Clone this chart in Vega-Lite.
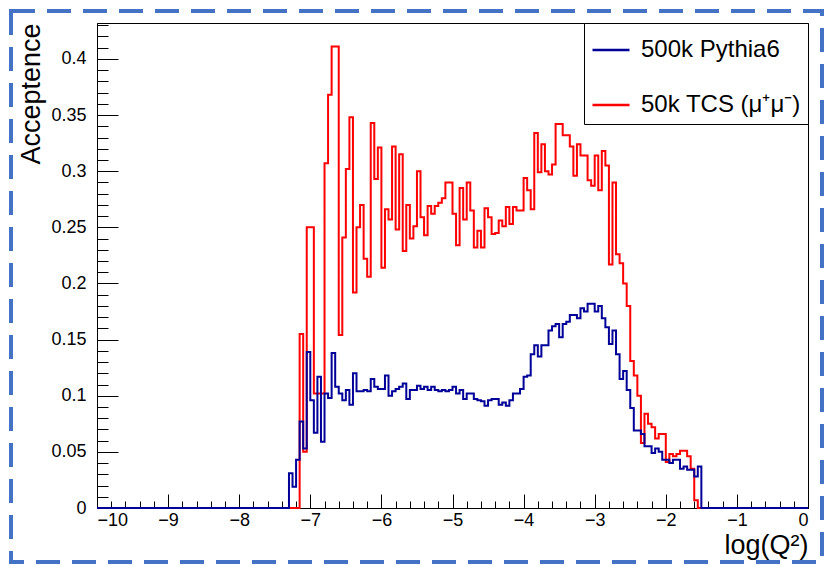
{
  "$schema": "https://vega.github.io/schema/vega-lite/v6.json",
  "width": 711,
  "height": 485,
  "autosize": "none",
  "padding": {"left": 97, "top": 23, "right": 19, "bottom": 62},
  "background": "white",
  "config": {
    "view": {"stroke": "black", "strokeWidth": 1},
    "font": "Liberation Sans",
    "axis": {
      "grid": false,
      "domainColor": "black",
      "tickColor": "black",
      "labelColor": "black",
      "titleColor": "black",
      "labelFont": "Liberation Sans",
      "titleFont": "Liberation Sans",
      "titleFontWeight": "normal",
      "labelFontSize": 18,
      "titleFontSize": 27
    }
  },
  "datasets": {
    "h": [
      {"s": "50k TCS (μ⁺μ⁻)", "x": -10, "y": 0},
      {"s": "50k TCS (μ⁺μ⁻)", "x": -7.15, "y": 0.155},
      {"s": "50k TCS (μ⁺μ⁻)", "x": -7.10, "y": 0.05},
      {"s": "50k TCS (μ⁺μ⁻)", "x": -7.05, "y": 0.25},
      {"s": "50k TCS (μ⁺μ⁻)", "x": -7.00, "y": 0.25},
      {"s": "50k TCS (μ⁺μ⁻)", "x": -6.95, "y": 0.102},
      {"s": "50k TCS (μ⁺μ⁻)", "x": -6.90, "y": 0.102},
      {"s": "50k TCS (μ⁺μ⁻)", "x": -6.85, "y": 0.102},
      {"s": "50k TCS (μ⁺μ⁻)", "x": -6.80, "y": 0.307},
      {"s": "50k TCS (μ⁺μ⁻)", "x": -6.75, "y": 0.368},
      {"s": "50k TCS (μ⁺μ⁻)", "x": -6.70, "y": 0.411},
      {"s": "50k TCS (μ⁺μ⁻)", "x": -6.65, "y": 0.411},
      {"s": "50k TCS (μ⁺μ⁻)", "x": -6.60, "y": 0.154},
      {"s": "50k TCS (μ⁺μ⁻)", "x": -6.55, "y": 0.241},
      {"s": "50k TCS (μ⁺μ⁻)", "x": -6.50, "y": 0.302},
      {"s": "50k TCS (μ⁺μ⁻)", "x": -6.45, "y": 0.348},
      {"s": "50k TCS (μ⁺μ⁻)", "x": -6.40, "y": 0.192},
      {"s": "50k TCS (μ⁺μ⁻)", "x": -6.35, "y": 0.25},
      {"s": "50k TCS (μ⁺μ⁻)", "x": -6.30, "y": 0.27},
      {"s": "50k TCS (μ⁺μ⁻)", "x": -6.25, "y": 0.222},
      {"s": "50k TCS (μ⁺μ⁻)", "x": -6.20, "y": 0.206},
      {"s": "50k TCS (μ⁺μ⁻)", "x": -6.15, "y": 0.343},
      {"s": "50k TCS (μ⁺μ⁻)", "x": -6.10, "y": 0.293},
      {"s": "50k TCS (μ⁺μ⁻)", "x": -6.05, "y": 0.321},
      {"s": "50k TCS (μ⁺μ⁻)", "x": -6.00, "y": 0.214},
      {"s": "50k TCS (μ⁺μ⁻)", "x": -5.95, "y": 0.266},
      {"s": "50k TCS (μ⁺μ⁻)", "x": -5.90, "y": 0.257},
      {"s": "50k TCS (μ⁺μ⁻)", "x": -5.85, "y": 0.322},
      {"s": "50k TCS (μ⁺μ⁻)", "x": -5.80, "y": 0.248},
      {"s": "50k TCS (μ⁺μ⁻)", "x": -5.75, "y": 0.315},
      {"s": "50k TCS (μ⁺μ⁻)", "x": -5.70, "y": 0.229},
      {"s": "50k TCS (μ⁺μ⁻)", "x": -5.65, "y": 0.27},
      {"s": "50k TCS (μ⁺μ⁻)", "x": -5.60, "y": 0.24},
      {"s": "50k TCS (μ⁺μ⁻)", "x": -5.55, "y": 0.251},
      {"s": "50k TCS (μ⁺μ⁻)", "x": -5.50, "y": 0.300},
      {"s": "50k TCS (μ⁺μ⁻)", "x": -5.45, "y": 0.259},
      {"s": "50k TCS (μ⁺μ⁻)", "x": -5.40, "y": 0.243},
      {"s": "50k TCS (μ⁺μ⁻)", "x": -5.35, "y": 0.269},
      {"s": "50k TCS (μ⁺μ⁻)", "x": -5.30, "y": 0.262},
      {"s": "50k TCS (μ⁺μ⁻)", "x": -5.25, "y": 0.269},
      {"s": "50k TCS (μ⁺μ⁻)", "x": -5.20, "y": 0.272},
      {"s": "50k TCS (μ⁺μ⁻)", "x": -5.15, "y": 0.276},
      {"s": "50k TCS (μ⁺μ⁻)", "x": -5.10, "y": 0.290},
      {"s": "50k TCS (μ⁺μ⁻)", "x": -5.05, "y": 0.290},
      {"s": "50k TCS (μ⁺μ⁻)", "x": -5.00, "y": 0.262},
      {"s": "50k TCS (μ⁺μ⁻)", "x": -4.95, "y": 0.234},
      {"s": "50k TCS (μ⁺μ⁻)", "x": -4.90, "y": 0.285},
      {"s": "50k TCS (μ⁺μ⁻)", "x": -4.85, "y": 0.257},
      {"s": "50k TCS (μ⁺μ⁻)", "x": -4.80, "y": 0.290},
      {"s": "50k TCS (μ⁺μ⁻)", "x": -4.75, "y": 0.265},
      {"s": "50k TCS (μ⁺μ⁻)", "x": -4.70, "y": 0.232},
      {"s": "50k TCS (μ⁺μ⁻)", "x": -4.65, "y": 0.247},
      {"s": "50k TCS (μ⁺μ⁻)", "x": -4.60, "y": 0.232},
      {"s": "50k TCS (μ⁺μ⁻)", "x": -4.55, "y": 0.267},
      {"s": "50k TCS (μ⁺μ⁻)", "x": -4.50, "y": 0.259},
      {"s": "50k TCS (μ⁺μ⁻)", "x": -4.45, "y": 0.244},
      {"s": "50k TCS (μ⁺μ⁻)", "x": -4.40, "y": 0.245},
      {"s": "50k TCS (μ⁺μ⁻)", "x": -4.35, "y": 0.256},
      {"s": "50k TCS (μ⁺μ⁻)", "x": -4.30, "y": 0.251},
      {"s": "50k TCS (μ⁺μ⁻)", "x": -4.25, "y": 0.268},
      {"s": "50k TCS (μ⁺μ⁻)", "x": -4.20, "y": 0.253},
      {"s": "50k TCS (μ⁺μ⁻)", "x": -4.15, "y": 0.268},
      {"s": "50k TCS (μ⁺μ⁻)", "x": -4.10, "y": 0.265},
      {"s": "50k TCS (μ⁺μ⁻)", "x": -4.05, "y": 0.265},
      {"s": "50k TCS (μ⁺μ⁻)", "x": -4.00, "y": 0.294},
      {"s": "50k TCS (μ⁺μ⁻)", "x": -3.95, "y": 0.283},
      {"s": "50k TCS (μ⁺μ⁻)", "x": -3.90, "y": 0.266},
      {"s": "50k TCS (μ⁺μ⁻)", "x": -3.85, "y": 0.334},
      {"s": "50k TCS (μ⁺μ⁻)", "x": -3.80, "y": 0.299},
      {"s": "50k TCS (μ⁺μ⁻)", "x": -3.75, "y": 0.324},
      {"s": "50k TCS (μ⁺μ⁻)", "x": -3.70, "y": 0.300},
      {"s": "50k TCS (μ⁺μ⁻)", "x": -3.65, "y": 0.297},
      {"s": "50k TCS (μ⁺μ⁻)", "x": -3.60, "y": 0.306},
      {"s": "50k TCS (μ⁺μ⁻)", "x": -3.55, "y": 0.342},
      {"s": "50k TCS (μ⁺μ⁻)", "x": -3.50, "y": 0.342},
      {"s": "50k TCS (μ⁺μ⁻)", "x": -3.45, "y": 0.332},
      {"s": "50k TCS (μ⁺μ⁻)", "x": -3.40, "y": 0.332},
      {"s": "50k TCS (μ⁺μ⁻)", "x": -3.35, "y": 0.322},
      {"s": "50k TCS (μ⁺μ⁻)", "x": -3.30, "y": 0.296},
      {"s": "50k TCS (μ⁺μ⁻)", "x": -3.25, "y": 0.324},
      {"s": "50k TCS (μ⁺μ⁻)", "x": -3.20, "y": 0.314},
      {"s": "50k TCS (μ⁺μ⁻)", "x": -3.15, "y": 0.314},
      {"s": "50k TCS (μ⁺μ⁻)", "x": -3.10, "y": 0.292},
      {"s": "50k TCS (μ⁺μ⁻)", "x": -3.05, "y": 0.287},
      {"s": "50k TCS (μ⁺μ⁻)", "x": -3.00, "y": 0.314},
      {"s": "50k TCS (μ⁺μ⁻)", "x": -2.95, "y": 0.283},
      {"s": "50k TCS (μ⁺μ⁻)", "x": -2.90, "y": 0.318},
      {"s": "50k TCS (μ⁺μ⁻)", "x": -2.85, "y": 0.305},
      {"s": "50k TCS (μ⁺μ⁻)", "x": -2.80, "y": 0.217},
      {"s": "50k TCS (μ⁺μ⁻)", "x": -2.75, "y": 0.290},
      {"s": "50k TCS (μ⁺μ⁻)", "x": -2.70, "y": 0.226},
      {"s": "50k TCS (μ⁺μ⁻)", "x": -2.65, "y": 0.218},
      {"s": "50k TCS (μ⁺μ⁻)", "x": -2.60, "y": 0.200},
      {"s": "50k TCS (μ⁺μ⁻)", "x": -2.55, "y": 0.180},
      {"s": "50k TCS (μ⁺μ⁻)", "x": -2.50, "y": 0.131},
      {"s": "50k TCS (μ⁺μ⁻)", "x": -2.45, "y": 0.118},
      {"s": "50k TCS (μ⁺μ⁻)", "x": -2.40, "y": 0.100},
      {"s": "50k TCS (μ⁺μ⁻)", "x": -2.35, "y": 0.058},
      {"s": "50k TCS (μ⁺μ⁻)", "x": -2.30, "y": 0.084},
      {"s": "50k TCS (μ⁺μ⁻)", "x": -2.25, "y": 0.075},
      {"s": "50k TCS (μ⁺μ⁻)", "x": -2.20, "y": 0.072},
      {"s": "50k TCS (μ⁺μ⁻)", "x": -2.15, "y": 0.062},
      {"s": "50k TCS (μ⁺μ⁻)", "x": -2.10, "y": 0.066},
      {"s": "50k TCS (μ⁺μ⁻)", "x": -2.05, "y": 0.066},
      {"s": "50k TCS (μ⁺μ⁻)", "x": -2.00, "y": 0.041},
      {"s": "50k TCS (μ⁺μ⁻)", "x": -1.95, "y": 0.048},
      {"s": "50k TCS (μ⁺μ⁻)", "x": -1.90, "y": 0.046},
      {"s": "50k TCS (μ⁺μ⁻)", "x": -1.85, "y": 0.048},
      {"s": "50k TCS (μ⁺μ⁻)", "x": -1.80, "y": 0.051},
      {"s": "50k TCS (μ⁺μ⁻)", "x": -1.75, "y": 0.051},
      {"s": "50k TCS (μ⁺μ⁻)", "x": -1.70, "y": 0.046},
      {"s": "50k TCS (μ⁺μ⁻)", "x": -1.65, "y": 0.035},
      {"s": "50k TCS (μ⁺μ⁻)", "x": -1.60, "y": 0.007},
      {"s": "50k TCS (μ⁺μ⁻)", "x": -1.55, "y": 0},
      {"s": "50k TCS (μ⁺μ⁻)", "x": 0, "y": 0},
      {"s": "500k Pythia6", "x": -10, "y": 0},
      {"s": "500k Pythia6", "x": -7.30, "y": 0.031},
      {"s": "500k Pythia6", "x": -7.25, "y": 0.019},
      {"s": "500k Pythia6", "x": -7.20, "y": 0.043},
      {"s": "500k Pythia6", "x": -7.15, "y": 0.077},
      {"s": "500k Pythia6", "x": -7.10, "y": 0.053},
      {"s": "500k Pythia6", "x": -7.05, "y": 0.139},
      {"s": "500k Pythia6", "x": -7.00, "y": 0.096},
      {"s": "500k Pythia6", "x": -6.95, "y": 0.067},
      {"s": "500k Pythia6", "x": -6.90, "y": 0.117},
      {"s": "500k Pythia6", "x": -6.85, "y": 0.059},
      {"s": "500k Pythia6", "x": -6.80, "y": 0.102},
      {"s": "500k Pythia6", "x": -6.75, "y": 0.098},
      {"s": "500k Pythia6", "x": -6.70, "y": 0.138},
      {"s": "500k Pythia6", "x": -6.65, "y": 0.108},
      {"s": "500k Pythia6", "x": -6.60, "y": 0.102},
      {"s": "500k Pythia6", "x": -6.55, "y": 0.096},
      {"s": "500k Pythia6", "x": -6.50, "y": 0.105},
      {"s": "500k Pythia6", "x": -6.45, "y": 0.092},
      {"s": "500k Pythia6", "x": -6.40, "y": 0.120},
      {"s": "500k Pythia6", "x": -6.35, "y": 0.104},
      {"s": "500k Pythia6", "x": -6.30, "y": 0.104},
      {"s": "500k Pythia6", "x": -6.25, "y": 0.105},
      {"s": "500k Pythia6", "x": -6.20, "y": 0.104},
      {"s": "500k Pythia6", "x": -6.15, "y": 0.115},
      {"s": "500k Pythia6", "x": -6.10, "y": 0.108},
      {"s": "500k Pythia6", "x": -6.05, "y": 0.106},
      {"s": "500k Pythia6", "x": -6.00, "y": 0.106},
      {"s": "500k Pythia6", "x": -5.95, "y": 0.118},
      {"s": "500k Pythia6", "x": -5.90, "y": 0.100},
      {"s": "500k Pythia6", "x": -5.85, "y": 0.104},
      {"s": "500k Pythia6", "x": -5.80, "y": 0.106},
      {"s": "500k Pythia6", "x": -5.75, "y": 0.108},
      {"s": "500k Pythia6", "x": -5.70, "y": 0.111},
      {"s": "500k Pythia6", "x": -5.65, "y": 0.097},
      {"s": "500k Pythia6", "x": -5.60, "y": 0.105},
      {"s": "500k Pythia6", "x": -5.55, "y": 0.105},
      {"s": "500k Pythia6", "x": -5.50, "y": 0.109},
      {"s": "500k Pythia6", "x": -5.45, "y": 0.106},
      {"s": "500k Pythia6", "x": -5.40, "y": 0.108},
      {"s": "500k Pythia6", "x": -5.35, "y": 0.105},
      {"s": "500k Pythia6", "x": -5.30, "y": 0.108},
      {"s": "500k Pythia6", "x": -5.25, "y": 0.105},
      {"s": "500k Pythia6", "x": -5.20, "y": 0.104},
      {"s": "500k Pythia6", "x": -5.15, "y": 0.105},
      {"s": "500k Pythia6", "x": -5.10, "y": 0.104},
      {"s": "500k Pythia6", "x": -5.05, "y": 0.105},
      {"s": "500k Pythia6", "x": -5.00, "y": 0.108},
      {"s": "500k Pythia6", "x": -4.95, "y": 0.102},
      {"s": "500k Pythia6", "x": -4.90, "y": 0.105},
      {"s": "500k Pythia6", "x": -4.85, "y": 0.097},
      {"s": "500k Pythia6", "x": -4.80, "y": 0.102},
      {"s": "500k Pythia6", "x": -4.75, "y": 0.102},
      {"s": "500k Pythia6", "x": -4.70, "y": 0.097},
      {"s": "500k Pythia6", "x": -4.65, "y": 0.096},
      {"s": "500k Pythia6", "x": -4.60, "y": 0.095},
      {"s": "500k Pythia6", "x": -4.55, "y": 0.091},
      {"s": "500k Pythia6", "x": -4.50, "y": 0.096},
      {"s": "500k Pythia6", "x": -4.45, "y": 0.097},
      {"s": "500k Pythia6", "x": -4.40, "y": 0.097},
      {"s": "500k Pythia6", "x": -4.35, "y": 0.092},
      {"s": "500k Pythia6", "x": -4.30, "y": 0.094},
      {"s": "500k Pythia6", "x": -4.25, "y": 0.091},
      {"s": "500k Pythia6", "x": -4.20, "y": 0.096},
      {"s": "500k Pythia6", "x": -4.15, "y": 0.102},
      {"s": "500k Pythia6", "x": -4.10, "y": 0.102},
      {"s": "500k Pythia6", "x": -4.05, "y": 0.106},
      {"s": "500k Pythia6", "x": -4.00, "y": 0.117},
      {"s": "500k Pythia6", "x": -3.95, "y": 0.118},
      {"s": "500k Pythia6", "x": -3.90, "y": 0.137},
      {"s": "500k Pythia6", "x": -3.85, "y": 0.145},
      {"s": "500k Pythia6", "x": -3.80, "y": 0.135},
      {"s": "500k Pythia6", "x": -3.75, "y": 0.145},
      {"s": "500k Pythia6", "x": -3.70, "y": 0.145},
      {"s": "500k Pythia6", "x": -3.65, "y": 0.158},
      {"s": "500k Pythia6", "x": -3.60, "y": 0.162},
      {"s": "500k Pythia6", "x": -3.55, "y": 0.164},
      {"s": "500k Pythia6", "x": -3.50, "y": 0.152},
      {"s": "500k Pythia6", "x": -3.45, "y": 0.164},
      {"s": "500k Pythia6", "x": -3.40, "y": 0.166},
      {"s": "500k Pythia6", "x": -3.35, "y": 0.172},
      {"s": "500k Pythia6", "x": -3.30, "y": 0.172},
      {"s": "500k Pythia6", "x": -3.25, "y": 0.169},
      {"s": "500k Pythia6", "x": -3.20, "y": 0.178},
      {"s": "500k Pythia6", "x": -3.15, "y": 0.175},
      {"s": "500k Pythia6", "x": -3.10, "y": 0.182},
      {"s": "500k Pythia6", "x": -3.05, "y": 0.182},
      {"s": "500k Pythia6", "x": -3.00, "y": 0.175},
      {"s": "500k Pythia6", "x": -2.95, "y": 0.180},
      {"s": "500k Pythia6", "x": -2.90, "y": 0.169},
      {"s": "500k Pythia6", "x": -2.85, "y": 0.161},
      {"s": "500k Pythia6", "x": -2.80, "y": 0.146},
      {"s": "500k Pythia6", "x": -2.75, "y": 0.158},
      {"s": "500k Pythia6", "x": -2.70, "y": 0.137},
      {"s": "500k Pythia6", "x": -2.65, "y": 0.115},
      {"s": "500k Pythia6", "x": -2.60, "y": 0.122},
      {"s": "500k Pythia6", "x": -2.55, "y": 0.105},
      {"s": "500k Pythia6", "x": -2.50, "y": 0.089},
      {"s": "500k Pythia6", "x": -2.45, "y": 0.069},
      {"s": "500k Pythia6", "x": -2.40, "y": 0.069},
      {"s": "500k Pythia6", "x": -2.35, "y": 0.066},
      {"s": "500k Pythia6", "x": -2.30, "y": 0.055},
      {"s": "500k Pythia6", "x": -2.25, "y": 0.055},
      {"s": "500k Pythia6", "x": -2.20, "y": 0.049},
      {"s": "500k Pythia6", "x": -2.15, "y": 0.053},
      {"s": "500k Pythia6", "x": -2.10, "y": 0.050},
      {"s": "500k Pythia6", "x": -2.05, "y": 0.043},
      {"s": "500k Pythia6", "x": -2.00, "y": 0.043},
      {"s": "500k Pythia6", "x": -1.95, "y": 0.040},
      {"s": "500k Pythia6", "x": -1.90, "y": 0.043},
      {"s": "500k Pythia6", "x": -1.85, "y": 0.043},
      {"s": "500k Pythia6", "x": -1.80, "y": 0.035},
      {"s": "500k Pythia6", "x": -1.75, "y": 0.037},
      {"s": "500k Pythia6", "x": -1.70, "y": 0.034},
      {"s": "500k Pythia6", "x": -1.65, "y": 0.034},
      {"s": "500k Pythia6", "x": -1.60, "y": 0.028},
      {"s": "500k Pythia6", "x": -1.55, "y": 0.037},
      {"s": "500k Pythia6", "x": -1.50, "y": 0},
      {"s": "500k Pythia6", "x": 0, "y": 0}
    ]
  },
  "resolve": {"axis": {"x": "independent", "y": "independent"}},
  "layer": [
    {
      "data": {"name": "h"},
      "mark": {"type": "line", "strokeOpacity": 0, "interpolate": "step-after"},
      "encoding": {
        "x": {"field": "x", "type": "quantitative", "scale": {"domain": [-10, 0], "nice": false, "zero": false},
          "axis": {"orient": "bottom", "labels": false, "domain": false, "title": null, "tickSize": -7,
            "values": [-10,-9.8,-9.6,-9.4,-9.2,-9,-8.8,-8.6,-8.4,-8.2,-8,-7.8,-7.6,-7.4,-7.2,-7,-6.8,-6.6,-6.4,-6.2,-6,-5.8,-5.6,-5.4,-5.2,-5,-4.8,-4.6,-4.4,-4.2,-4,-3.8,-3.6,-3.4,-3.2,-3,-2.8,-2.6,-2.4,-2.2,-2,-1.8,-1.6,-1.4,-1.2,-1,-0.8,-0.6,-0.4,-0.2,0]}},
        "y": {"field": "y", "type": "quantitative", "scale": {"domain": [0, 0.432], "nice": false, "zero": false},
          "axis": {"orient": "left", "labels": false, "domain": false, "title": null, "tickSize": -11,
            "values": [0,0.01,0.02,0.03,0.04,0.05,0.06,0.07,0.08,0.09,0.1,0.11,0.12,0.13,0.14,0.15,0.16,0.17,0.18,0.19,0.2,0.21,0.22,0.23,0.24,0.25,0.26,0.27,0.28,0.29,0.3,0.31,0.32,0.33,0.34,0.35,0.36,0.37,0.38,0.39,0.4,0.41,0.42,0.43]}}
      }
    },
    {
      "data": {"name": "h"},
      "transform": [{"filter": "datum.s === '50k TCS (μ⁺μ⁻)'"}],
      "mark": {"type": "line", "interpolate": "step-after", "strokeWidth": 2},
      "encoding": {
        "x": {"field": "x", "type": "quantitative", "scale": {"domain": [-10, 0], "nice": false, "zero": false},
          "axis": {"orient": "bottom", "values": [-10,-9,-8,-7,-6,-5,-4,-3,-2,-1,0], "labels": false, "domain": false, "title": null, "tickSize": -14}},
        "y": {"field": "y", "type": "quantitative", "scale": {"domain": [0, 0.432], "nice": false, "zero": false},
          "axis": {"orient": "left", "values": [0,0.05,0.1,0.15,0.2,0.25,0.3,0.35,0.4], "labels": false, "domain": false, "title": null, "tickSize": -21}},
        "color": {"field": "s", "type": "nominal",
          "scale": {"domain": ["500k Pythia6", "50k TCS (μ⁺μ⁻)"], "range": ["#000099", "#ff0000"]},
          "legend": {"title": null, "orient": "top-right", "offset": 0, "symbolType": "stroke", "symbolSize": 1369,
            "symbolStrokeWidth": 2.5, "labelFontSize": 24, "labelFont": "Liberation Sans", "labelColor": "black",
            "labelOffset": 10, "rowPadding": 23, "padding": 7, "fillColor": "white", "strokeColor": "black", "labelLimit": 400}}
      }
    },
    {
      "data": {"name": "h"},
      "transform": [{"filter": "datum.s === '500k Pythia6'"}],
      "mark": {"type": "line", "interpolate": "step-after", "strokeWidth": 2},
      "encoding": {
        "x": {"field": "x", "type": "quantitative", "scale": {"domain": [-10, 0], "nice": false, "zero": false},
          "axis": {"orient": "bottom", "values": [-10,-9,-8,-7,-6,-5,-4,-3,-2,-1,0], "format": "d", "ticks": false,
            "labelPadding": 3, "title": "log(Q²)", "titleAnchor": "end", "titlePadding": 3}},
        "y": {"field": "y", "type": "quantitative", "scale": {"domain": [0, 0.432], "nice": false, "zero": false},
          "axis": {"orient": "left", "values": [0,0.05,0.1,0.15,0.2,0.25,0.3,0.35,0.4], "format": ".2~f", "ticks": false,
            "labelPadding": 11, "title": "Acceptence", "titleAnchor": "end", "titlePadding": 5}},
        "color": {"field": "s", "type": "nominal"}
      }
    },
    {
      "data": {"values": [{}]},
      "mark": {"type": "rect", "fill": null, "fillOpacity": 0, "stroke": "#4472c4", "strokeWidth": 4, "strokeDash": [24, 12]},
      "encoding": {
        "x": {"value": -86},
        "x2": {"value": 725},
        "y": {"value": -12},
        "y2": {"value": 539}
      }
    }
  ]
}
